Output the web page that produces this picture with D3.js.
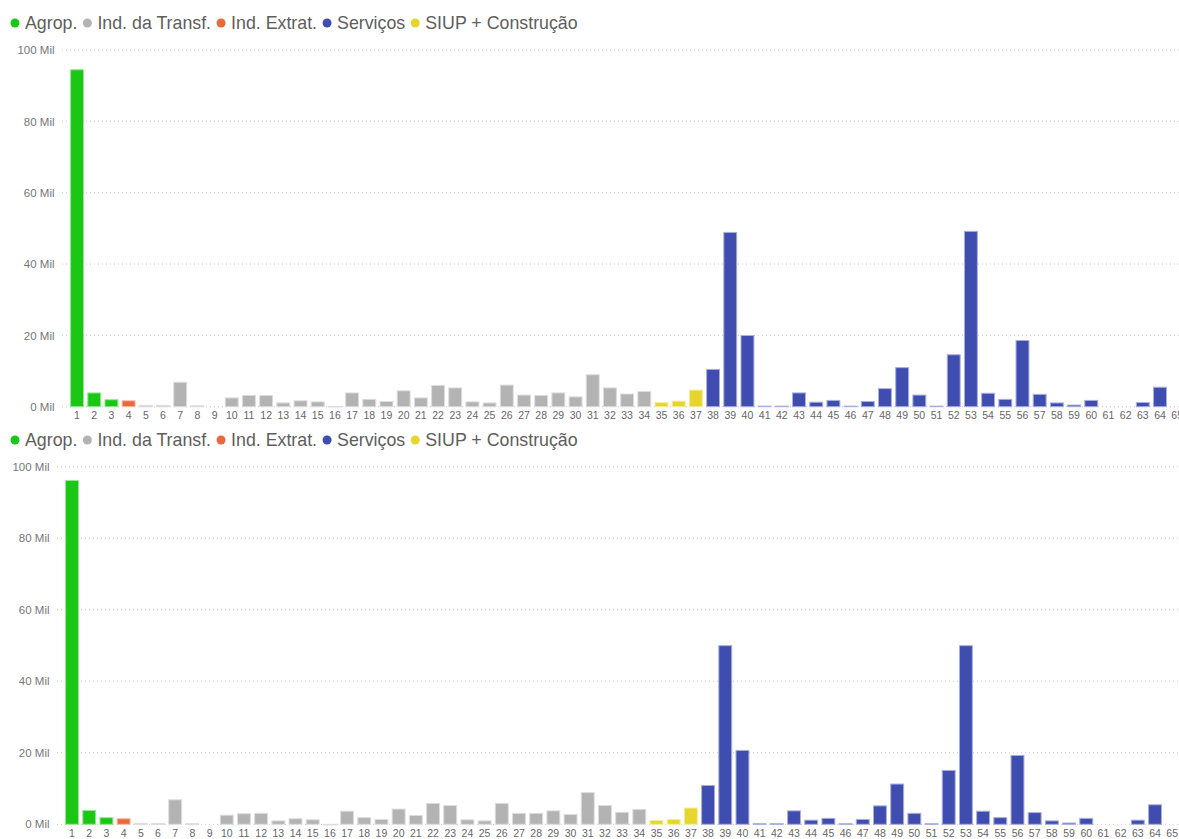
<!DOCTYPE html>
<html>
<head>
<meta charset="utf-8">
<script src="https://cdn.jsdelivr.net/npm/d3@7"></script>
<style>
  body { margin: 0; background: #fff; }
  svg { display: block; font-family: "Segoe UI", "Liberation Sans", Arial, sans-serif; }
</style>
</head>
<body>
<svg width="1179" height="839"></svg>
<script>
// sectors legend
const sectorNames = ['Agrop.', 'Ind. da Transf.', 'Ind. Extrat.', 'Serviços', 'SIUP + Construção'];
const sectorColors = ['#19C714', '#B3B3B3', '#E8693A', '#404DB0', '#E6D52C'];

// sector of each category (1..65): A=Agrop, T=Transf, E=Extrat, S=Servicos, C=SIUP
const categorySector = [
  'A', 'A', 'A', 'E', 'T', 'T', 'T', 'T', 'T', 'T',
  'T', 'T', 'T', 'T', 'T', 'T', 'T', 'T', 'T', 'T',
  'T', 'T', 'T', 'T', 'T', 'T', 'T', 'T', 'T', 'T',
  'T', 'T', 'T', 'T', 'C', 'C', 'C', 'S', 'S', 'S',
  'S', 'S', 'S', 'S', 'S', 'S', 'S', 'S', 'S', 'S',
  'S', 'S', 'S', 'S', 'S', 'S', 'S', 'S', 'S', 'S',
  'S', 'S', 'S', 'S', 'S'
];
const sectorKey = { A: 0, T: 1, E: 2, S: 3, C: 4 };

// values in Mil, top chart
const valuesTop = [
  94.6, 4.0, 2.1, 1.8, 0.5, 0.5, 7.0, 0.4, 0, 2.6,
  3.3, 3.3, 1.2, 1.8, 1.5, 0.2, 4.0, 2.2, 1.6, 4.6,
  2.6, 6.1, 5.4, 1.5, 1.2, 6.2, 3.4, 3.3, 4.0, 2.9,
  9.1, 5.4, 3.7, 4.4, 1.3, 1.7, 4.8, 10.6, 49.0, 20.1,
  0.3, 0.3, 4.0, 1.4, 1.9, 0.3, 1.6, 5.2, 11.1, 3.4,
  0.3, 14.7, 49.3, 3.9, 2.2, 18.7, 3.6, 1.2, 0.6, 1.9,
  0, 0, 1.3, 5.6, 0
];

// values in Mil, bottom chart
const valuesBottom = [
  96.3, 4.0, 2.0, 1.7, 0.4, 0.4, 7.0, 0.3, 0, 2.7,
  3.1, 3.2, 1.1, 1.7, 1.4, 0.1, 3.8, 2.0, 1.5, 4.4,
  2.6, 6.0, 5.4, 1.4, 1.1, 6.0, 3.2, 3.2, 3.9, 2.9,
  9.0, 5.4, 3.5, 4.3, 1.2, 1.5, 4.7, 11.0, 50.1, 20.8,
  0.3, 0.3, 3.9, 1.3, 1.8, 0.3, 1.5, 5.3, 11.4, 3.2,
  0.3, 15.2, 50.1, 3.8, 2.0, 19.4, 3.4, 1.1, 0.5, 1.8,
  0, 0, 1.3, 5.6, 0
];

const yTicks = [0, 20, 40, 60, 80, 100];

const svg = d3.select('svg');

function drawLegend(y) {
  const g = svg.append('g').attr('transform', `translate(0,${y})`);
  let x = 15;
  sectorNames.forEach((name, i) => {
    g.append('circle')
      .attr('cx', x)
      .attr('cy', 0)
      .attr('r', 4.5)
      .attr('fill', sectorColors[i]);
    const t = g.append('text')
      .attr('x', x + 10)
      .attr('y', 0)
      .attr('dy', '0.35em')
      .attr('font-size', 17.8)
      .attr('fill', '#605E5C')
      .text(name);
    x += 10 + t.node().getComputedTextLength() + 10;
  });
}

function drawChart(values, left, top, bottom) {
  const x = d3.scaleBand()
    .domain(categorySector.map((d, i) => String(i + 1)))
    .range([left, left + 17.19 * 65.75])
    .paddingInner(0.19)
    .paddingOuter(0.47);

  const y = d3.scaleLinear().domain([0, 100]).range([bottom, top]);

  const g = svg.append('g');

  // dotted grid
  g.selectAll('line.grid')
    .data(yTicks)
    .join('line')
    .attr('class', 'grid')
    .attr('x1', left)
    .attr('x2', 1179)
    .attr('y1', d => y(d))
    .attr('y2', d => y(d))
    .attr('stroke', '#C8C8C8')
    .attr('stroke-dasharray', '1,3');

  const yAxis = d3.axisLeft(y)
    .tickValues(yTicks)
    .tickSize(0)
    .tickPadding(7.5)
    .tickFormat(d => `${d} Mil`);

  g.append('g')
    .attr('transform', `translate(${left},0)`)
    .call(yAxis)
    .call(a => a.select('.domain').remove())
    .call(a => a.selectAll('text')
      .attr('font-size', 11.5)
      .attr('fill', '#777')
      .attr('font-family', '"Segoe UI", "Liberation Sans", Arial, sans-serif'));

  const xAxis = d3.axisBottom(x).tickSize(0).tickPadding(5);
  g.append('g')
    .attr('transform', `translate(0,${bottom})`)
    .call(xAxis)
    .call(a => a.select('.domain').remove())
    .call(a => a.selectAll('text')
      .attr('font-size', 10.5)
      .attr('fill', '#666')
      .attr('font-family', '"Segoe UI", "Liberation Sans", Arial, sans-serif'));

  // bars, pale outline like the original
  const bars = values.map((v, i) => ({ cat: String(i + 1), v, sector: sectorKey[categorySector[i]] }))
    .filter(d => d.v > 0);

  g.selectAll('rect.bar')
    .data(bars)
    .join('rect')
    .attr('class', 'bar')
    .attr('x', d => x(d.cat) + 0.5)
    .attr('y', d => y(d.v) + 0.5)
    .attr('width', x.bandwidth() - 1)
    .attr('height', d => Math.max(0.5, bottom - y(d.v) - 0.5))
    .attr('fill', d => sectorColors[d.sector])
    .attr('stroke', d => d3.interpolateRgb(sectorColors[d.sector], '#fff')(0.55))
    .attr('stroke-width', 1);
}

drawLegend(23);
drawChart(valuesTop, 62, 50, 406.7);
drawLegend(440);
drawChart(valuesBottom, 57, 466.7, 824.3);
</script>
</body>
</html>
